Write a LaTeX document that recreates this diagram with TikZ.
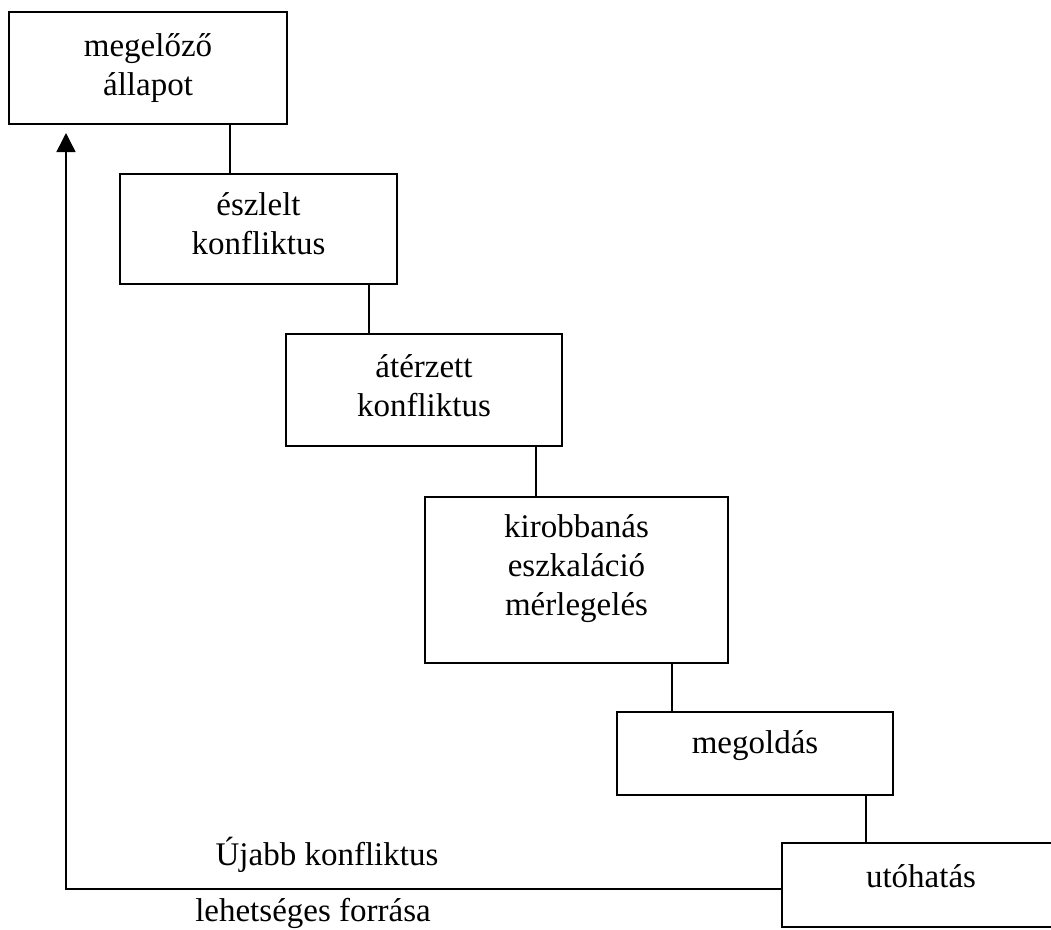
\documentclass[tikz,border=0pt]{standalone}
\usepackage{fontspec}
\setmainfont{Liberation Serif}
\usetikzlibrary{arrows.meta}
\tikzset{
  box/.style={draw=black, line width=1.8pt, rectangle, inner sep=0pt},
  lbl/.style={anchor=base, inner sep=0pt, font=\fontsize{33}{39}\selectfont},
  conn/.style={draw=black, line width=1.5pt},
}
\newcommand{\twolines}[2]{\parbox[t]{260pt}{\centering #1\\#2}}
\newcommand{\threelines}[3]{\parbox[t]{290pt}{\centering #1\\#2\\#3}}
\begin{document}
\begin{tikzpicture}[x=1pt,y=-1pt]
\clip (0,0) rectangle (1051,929);
\fill[white] (0,0) rectangle (1051,929);
% boxes
\node[box, minimum width=278pt, minimum height=112pt] (b1) at (148,68) {};
\node[box, minimum width=277pt, minimum height=110pt] (b2) at (258.5,229) {};
\node[box, minimum width=276pt, minimum height=112pt] (b3) at (424,390) {};
\node[box, minimum width=303pt, minimum height=166pt] (b4) at (576.5,580) {};
\node[box, minimum width=276pt, minimum height=83pt] (b5) at (755,753.5) {};
\node[box, minimum width=278pt, minimum height=84pt] (b6) at (921,885) {};
% texts
\node[lbl] (t1) at (148,56) {\twolines{megelőző}{állapot}};
\node[lbl] (t2) at (258.5,215) {\twolines{észlelt}{konfliktus}};
\node[lbl] (t3) at (424,377) {\twolines{átérzett}{konfliktus}};
\node[lbl] (t4) at (576.5,537) {\threelines{kirobbanás}{eszkaláció}{mérlegelés}};
\node[lbl] (t5) at (755,753) {megoldás};
\node[lbl] (t6) at (921,887) {utóhatás};
\node[lbl] (l1) at (327,865) {Újabb konfliktus};
\node[lbl] (l2) at (313,921) {lehetséges forrása};
% connector x positions
\coordinate (c1) at (230,0);
\coordinate (c2) at (369,0);
\coordinate (c3) at (536,0);
\coordinate (c4) at (672,0);
\coordinate (c5) at (866,0);
\draw[conn] (b1.south -| c1) -- (b2.north -| c1);
\draw[conn] (b2.south -| c2) -- (b3.north -| c2);
\draw[conn] (b3.south -| c3) -- (b4.north -| c3);
\draw[conn] (b4.south -| c4) -- (b5.north -| c4);
\draw[conn] (b5.south -| c5) -- (b6.north -| c5);
% return arrow
\coordinate (corner) at (66,889);
\coordinate (ret) at (66,133);
\draw[conn, -{Triangle[width=19pt,length=19pt]}] (b6.west |- corner) -- (corner) -- (ret);
\end{tikzpicture}
\end{document}
